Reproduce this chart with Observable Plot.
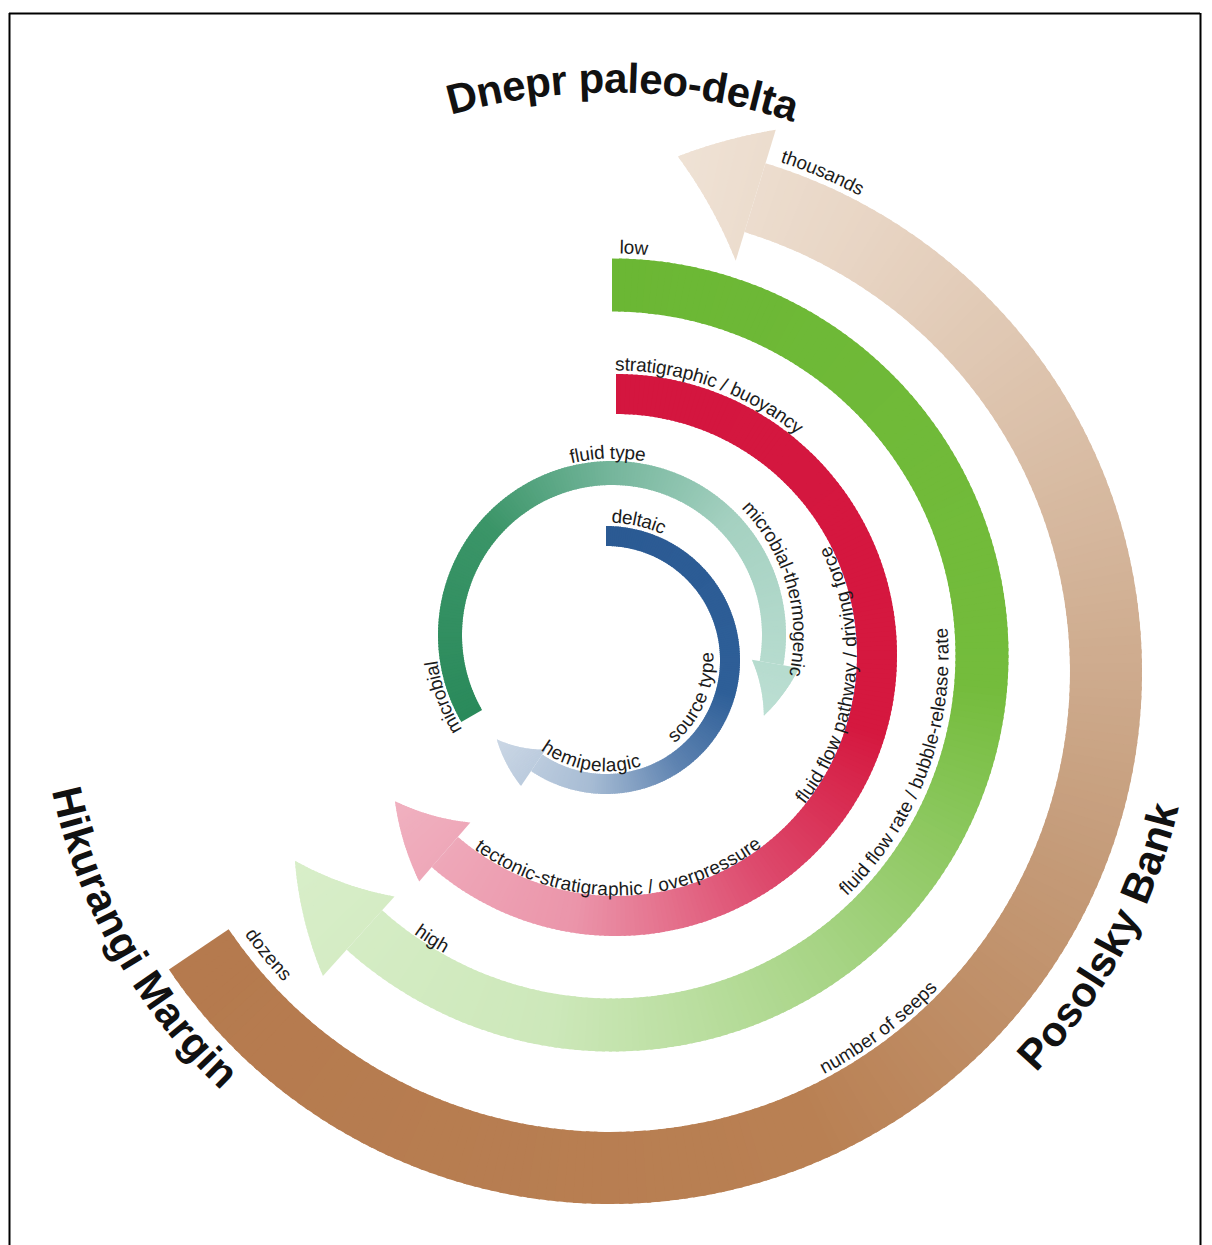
<!DOCTYPE html>
<html><head><meta charset="utf-8">
<script src="https://cdn.jsdelivr.net/npm/d3@7"></script>
<script src="https://cdn.jsdelivr.net/npm/@observablehq/plot@0.6"></script>
<style>html,body{margin:0;background:#fff}#chart svg{display:block}</style>
</head><body><div id="chart"></div>
<script>
// ---------------- data (values / labels) ----------------
const rings = ["source type", "fluid type", "fluid flow pathway / driving force", "fluid flow rate / bubble-release rate", "number of seeps"];
const ringStartLabels = ["deltaic", "microbial", "stratigraphic / buoyancy", "low", "dozens"];
const ringEndLabels = ["hemipelagic", "microbial-thermogenic", "tectonic-stratigraphic / overpressure", "high", "thousands"];
const sites = ["Dnepr paleo-delta", "Posolsky Bank", "Hikurangi Margin"];
// arc extents in degrees, clockwise from 12 o'clock: start, end of shaft, arrow tip
const arcStart = [0, 240, 0, 0, 236];
const arcShaftEnd = [214, 460, 221, 222, 17];
const arcTip = [234, 478, 236.5, 237, 7.5];

// ---------------- layout / styles ----------------
const geom = [
  {c: [606, 660], r: 124, w: 20, hi: 108, ho: 152, tr: 135,
   stops: [0, 0.45, 0.62, 0.8, 1], colors: ["#2b5a93", "#2e5f98", "#5d82b0", "#a7bcd4", "#cbd7e5"]},
  {c: [612, 635], r: 162, w: 24, hi: 142, ho: 190, tr: 172,
   stops: [0, 0.3, 0.5, 0.7, 1], colors: ["#2a8a5b", "#3b9568", "#74b59b", "#a5d1c1", "#bcdfd3"]},
  {c: [616, 655], r: 261, w: 40, hi: 222, ho: 300, tr: 265,
   stops: [0, 0.45, 0.62, 0.8, 1], colors: ["#d4163f", "#d5183f", "#dd4a6d", "#eb95aa", "#f0b1c0"]},
  {c: [612, 655], r: 370, w: 53, hi: 325, ho: 432, tr: 378,
   stops: [0, 0.4, 0.6, 0.8, 1], colors: ["#6bb734", "#74bc3c", "#a5d382", "#cde8ba", "#d8eec9"]},
  {c: [610, 672], r: 496, w: 72, hi: 430, ho: 567, tr: 520,
   stops: [0, 0.35, 0.55, 0.75, 0.9, 1], colors: ["#b57a4e", "#b98053", "#c59c7a", "#d9bda5", "#e8d5c4", "#efe2d5"]}
];
// label placement: [ring index, centre angle, baseline radius, side]
const namePlace = [[0, 113, 107, "in"], [1, -1.5, 177, "out"], [2, 95.5, 240, "in"], [3, 110.5, 336, "in"], [4, 143, 455, "in"]];
const startPlace = [[0, 13, 138, "out"], [1, 250, 177, "out"], [2, 19.5, 285, "out"], [3, 3, 402, "out"], [4, 230.5, 450, "in"]];
const endPlace = [[0, 189, 111, "in"], [1, 74, 181, "out"], [2, 179.5, 240, "in"], [3, 212.5, 342, "in"], [4, 23, 538, "out"]];
const sitePlace = [[4, 1.2, 580, "out"], [4, 118.3, 584, "in"], [4, 240.5, 571, "in"]];
const frame = {left: 9, right: 1200, top: 13, bottom: 1260};
const FONT = '"Liberation Sans", Arial, Helvetica, sans-serif';

// ---------------- geometry helpers ----------------
const rad = Math.PI / 180;
const P = (c, r, th) => [c[0] + r * Math.sin(th * rad), c[1] - r * Math.cos(th * rad)];

const bands = [];
rings.forEach((name, i) => {
  const g = geom[i];
  const start = arcStart[i], base = arcShaftEnd[i], tip = arcTip[i];
  const dir = Math.sign(base - start);
  const shaftLen = Math.abs(base - start), headLen = Math.abs(tip - base), total = shaftLen + headLen;
  const col = d3.scaleLinear().domain(g.stops).range(g.colors).interpolate(d3.interpolateRgb);
  const step = 1, over = 0.45;
  let k = 0;
  for (let a = 0; a < shaftLen; a += step) {
    const a2 = Math.min(a + step + over, shaftLen);
    const fill = col(Math.min(1, (a + step / 2) / total));
    for (const t of [a, a2]) {
      const th = start + dir * t;
      const [x1, y1] = P(g.c, g.r - g.w / 2, th), [x2, y2] = P(g.c, g.r + g.w / 2, th);
      bands.push({z: `${i}-s${k}`, x1, y1, x2, y2, fill});
    }
    k++;
  }
  const hs = 0.5;
  for (let a = 0; a < headLen; a += hs) {
    const a2 = Math.min(a + hs + 0.3, headLen);
    const fill = col(Math.min(1, (shaftLen + a + hs / 2) / total));
    for (const t of [a, a2]) {
      const f = t / headLen;
      const th = base + dir * t;
      const ri = g.hi + (g.tr - g.hi) * f, ro = g.ho + (g.tr - g.ho) * f;
      const [x1, y1] = P(g.c, ri, th), [x2, y2] = P(g.c, ro, th);
      bands.push({z: `${i}-h${k}`, x1, y1, x2, y2, fill});
    }
    k++;
  }
});

// text along arcs, one glyph at a time
const ctx = document.createElement("canvas").getContext("2d");
function along(text, place, size, weight) {
  const [ri, thc, r, side] = place;
  const c = geom[ri].c;
  ctx.font = `${weight} ${size}px ${FONT}`;
  const W = ctx.measureText(text).width;
  const rEff = side === "out" ? r + 0.3 * size : r - 0.3 * size;
  const sgn = side === "out" ? 1 : -1;
  const out = [];
  for (let i = 0; i < text.length; i++) {
    const ch = text[i];
    const x0 = ctx.measureText(text.slice(0, i)).width;
    const w = ctx.measureText(text.slice(0, i + 1)).width - x0;
    if (ch === " ") continue;
    const s = x0 + w / 2 - W / 2;
    const th = thc + sgn * (s / rEff) / rad;
    const [x, y] = P(c, r, th);
    out.push({x, y, ch, rotate: side === "out" ? th : th - 180, size});
  }
  return out;
}
const small = [];
rings.forEach((t, i) => small.push(...along(t, namePlace[i], 19, "normal")));
ringStartLabels.forEach((t, i) => small.push(...along(t, startPlace[i], 19, "normal")));
ringEndLabels.forEach((t, i) => small.push(...along(t, endPlace[i], 19, "normal")));
const big = [];
sites.forEach((t, i) => big.push(...along(t, sitePlace[i], 42, "bold")));

const chart = Plot.plot({
  width: 1212, height: 1245, margin: 0,
  x: {domain: [0, 1212], range: [0, 1212], axis: null},
  y: {domain: [0, 1245], range: [0, 1245], axis: null},
  color: {type: "identity"},
  marks: [
    Plot.area(bands, {x1: "x1", y1: "y1", x2: "x2", y2: "y2", z: "z", fill: "fill"}),
    Plot.text(small, {x: "x", y: "y", text: "ch", rotate: "rotate", fontSize: 19, fontFamily: FONT,
      textAnchor: "middle", lineAnchor: "bottom", fill: "#1b1b1b"}),
    Plot.text(big, {x: "x", y: "y", text: "ch", rotate: "rotate", fontSize: 42, fontWeight: "bold", fontFamily: FONT,
      textAnchor: "middle", lineAnchor: "bottom", fill: "#111"}),
    Plot.ruleX([frame.left, frame.right], {y1: frame.top, y2: frame.bottom, stroke: "#000", strokeWidth: 2}),
    Plot.ruleY([frame.top], {x1: frame.left, x2: frame.right, stroke: "#000", strokeWidth: 2})
  ]
});
document.getElementById("chart").append(chart);
</script>
</body></html>
